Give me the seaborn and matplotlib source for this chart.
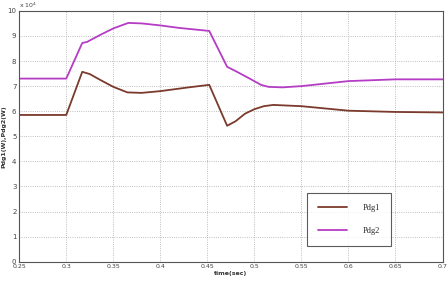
import pandas as pd
import matplotlib.pyplot as plt
import seaborn as sns

# values (x 10^4 W)
t1 = [0.25, 0.30, 0.317, 0.325, 0.336, 0.35, 0.365, 0.38, 0.40, 0.43, 0.452, 0.471, 0.48, 0.49, 0.50, 0.51, 0.52, 0.55, 0.60, 0.65, 0.70]
pdg1 = [5.85, 5.85, 7.57, 7.48, 7.25, 6.97, 6.75, 6.73, 6.8, 6.95, 7.05, 5.42, 5.6, 5.9, 6.08, 6.2, 6.25, 6.2, 6.02, 5.97, 5.95]
t2 = [0.25, 0.30, 0.317, 0.322, 0.336, 0.35, 0.366, 0.38, 0.40, 0.42, 0.452, 0.471, 0.48, 0.495, 0.507, 0.515, 0.53, 0.55, 0.60, 0.65, 0.70]
pdg2 = [7.3, 7.3, 8.72, 8.76, 9.04, 9.3, 9.52, 9.5, 9.42, 9.32, 9.2, 7.77, 7.6, 7.3, 7.05, 6.97, 6.95, 7.0, 7.2, 7.27, 7.27]
xticks = [0.25, 0.3, 0.35, 0.4, 0.45, 0.5, 0.55, 0.6, 0.65, 0.7]
xticklabels = ["0.25", "0.3", "0.35", "0.4", "0.45", "0.5", "0.55", "0.6", "0.65", "0.7"]
yticks = list(range(0, 11))

df = pd.concat([
    pd.DataFrame({"t": t1, "P": pdg1, "series": "Pdg1"}),
    pd.DataFrame({"t": t2, "P": pdg2, "series": "Pdg2"}),
])

sns.set_style("white")
fig, ax = plt.subplots(figsize=(4.47, 2.86), dpi=100)
sns.lineplot(data=df, x="t", y="P", hue="series", palette={"Pdg1": "#7a3a2c", "Pdg2": "#b53cc4"},
             linewidth=1.3, ax=ax)

ax.set_xlim(0.25, 0.7)
ax.set_ylim(0, 10)
ax.set_xticks(xticks)
ax.set_xticklabels(xticklabels, fontsize=4.5, color="#444444")
ax.set_yticks(yticks)
ax.set_yticklabels([str(v) for v in yticks], fontsize=5, color="#444444")
ax.tick_params(direction="in", length=2, pad=2)
ax.grid(True, linestyle=":", color="#aaaaaa", linewidth=0.6)
for s in ax.spines.values():
    s.set_color("#555555")
    s.set_linewidth(0.8)

ax.set_xlabel("time(sec)", fontsize=4.5, fontweight="bold", labelpad=1, color="#333333")
ax.set_ylabel("Pdg1(W),Pdg2(W)", fontsize=4.5, fontweight="bold", labelpad=1, color="#333333")
ax.text(0.0, 1.005, r"x 10$^4$", transform=ax.transAxes, fontsize=4.5, color="#444444", va="bottom")

leg = ax.legend(loc="lower right", bbox_to_anchor=(0.887, 0.045), fontsize=6, frameon=True, fancybox=False,
                edgecolor="#333333", handlelength=3.5, borderpad=1.3, labelspacing=1.9, handletextpad=1.8)
leg.get_frame().set_linewidth(0.8)
for text in leg.get_texts():
    text.set_family("Liberation Serif")

fig.subplots_adjust(left=0.043, right=0.99, top=0.962, bottom=0.085)
fig.savefig("out.png", dpi=100)
